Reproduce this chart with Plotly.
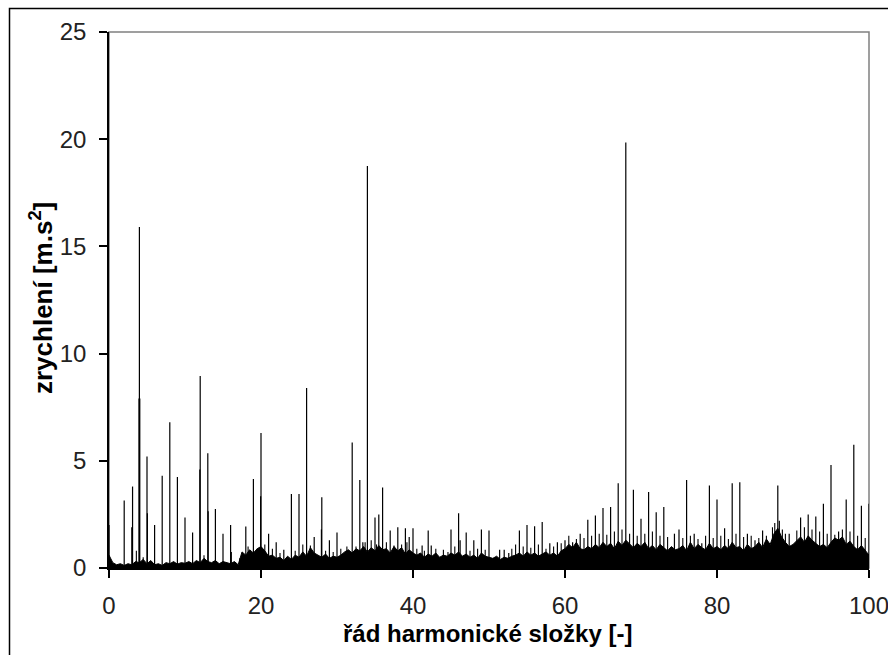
import plotly.graph_objects as go

# Harmonic order of the discrete spectral lines and their amplitudes [m.s^-2]
peak_order = [0, 2, 3, 3.1, 3.95, 4.0, 4.05, 5, 5.05, 6, 7, 8, 9, 10, 11, 11.95, 12, 13, 13.05,
              14, 15, 16, 18, 19, 19.95, 20, 21, 22, 23, 24, 25, 26, 27, 27.95, 28, 29, 30,
              32, 33, 33.4, 34, 35, 35.5, 36, 37, 38, 39, 39.5, 40, 41.2, 42, 42.4, 45, 46,
              46.2, 47, 48, 49, 50, 51.4, 52, 52.6, 54, 55, 56, 57, 58, 59, 60, 61, 62, 63,
              64, 65, 66, 67, 68, 69, 70, 71, 72, 73, 74.4, 75, 76, 77, 78, 79, 80, 81, 82,
              83, 84, 85, 86, 88, 88.2, 89.5, 91, 92, 93, 94, 95, 96, 97, 98, 99, 100]
peak_amp = [2.0, 3.15, 1.9, 3.8, 7.9, 15.9, 7.9, 5.2, 2.55, 2.0, 4.3, 6.8, 4.25, 2.35, 1.65, 4.6, 8.95, 5.35, 2.65,
            2.75, 1.6, 2.0, 1.93, 4.15, 3.35, 6.3, 1.6, 1.2, 0.85, 3.45, 3.45, 8.4, 1.45, 1.8, 3.3, 1.3, 1.65,
            5.85, 4.1, 1.2, 18.75, 2.35, 2.5, 3.75, 1.75, 1.9, 1.85, 1.45, 1.85, 1.05, 1.75, 1.05, 1.8, 2.55,
            1.3, 1.65, 1.3, 1.8, 1.75, 0.85, 0.85, 0.7, 1.75, 2.0, 1.95, 2.15, 1.15, 1.2, 1.3, 1.2, 1.6, 2.25,
            2.45, 2.8, 2.85, 3.95, 19.85, 3.65, 2.3, 3.55, 2.6, 2.85, 1.6, 1.8, 4.1, 1.6, 1.15, 3.85, 3.2, 1.85, 3.95,
            4.0, 1.6, 1.3, 1.75, 3.85, 2.2, 1.6, 2.35, 2.5, 2.4, 3.0, 4.8, 1.7, 3.2, 5.75, 2.9, 3.0]

# Small lines sticking out of the noise floor
minor_order = [3.6, 4.5, 12.5, 16.1, 17.2,
               18.3, 19.5, 20.5, 21.5, 22.5, 24.5, 25.5, 26.5, 28.5, 29.5,
               30.5, 31.3, 32.5, 33.7, 34.5, 35.2, 36.5, 37.5, 38.5, 39.2,
               40.5, 41.5, 43.0, 44.0, 44.6, 45.5, 47.5, 48.5, 49.5,
               53.0, 53.5, 54.5, 55.5, 56.5, 57.5, 58.5, 59.5,
               60.5, 61.5, 62.5, 63.5, 64.5, 65.5, 66.5, 67.5, 68.5, 69.5,
               70.5, 71.5, 72.5, 73.5, 75.5, 76.5, 77.5, 78.5, 79.5,
               80.5, 81.5, 82.5, 83.5, 84.5, 85.5, 86.5, 87.3, 87.6, 88.6, 89.0,
               90.5, 91.5, 92.5, 93.5, 94.5, 95.5, 96.5, 97.5, 98.5, 99.5]
minor_amp = [0.8, 0.5, 0.6, 0.75, 0.45,
             1.0, 0.9, 1.1, 0.9, 0.7, 0.8, 1.1, 1.05, 0.8, 0.75,
             0.9, 1.0, 1.0, 1.2, 1.3, 1.1, 1.2, 1.05, 1.1, 1.2,
             0.9, 0.8, 0.9, 0.85, 0.75, 1.0, 0.8, 0.9, 0.85,
             0.9, 1.1, 1.0, 0.95, 1.1, 0.9, 1.0, 1.15,
             1.5, 1.35, 1.4, 1.5, 1.6, 1.55, 1.7, 1.8, 1.6, 1.5,
             1.6, 1.7, 1.5, 1.45, 1.4, 1.5, 1.35, 1.5, 1.4,
             1.5, 1.35, 1.6, 1.45, 1.5, 1.4, 1.5, 1.9, 2.1, 1.8, 1.6,
             1.75, 1.9, 1.8, 1.7, 1.6, 1.55, 1.8, 1.7, 1.5, 1.4]

# Broadband noise floor, read every 0.5 of harmonic order from 0 to 100
noise_step = 0.5
noise_amp = [
    0.6, 0.25, 0.15, 0.2, 0.12, 0.2, 0.15, 0.3, 0.25, 0.4, 0.2, 0.35, 0.15, 0.2, 0.12, 0.25, 0.2, 0.3, 0.18, 0.25, 0.22,
    0.3, 0.2, 0.35, 0.25, 0.45, 0.3, 0.25, 0.35, 0.2, 0.3, 0.25, 0.2, 0.3, 0.15, 0.75, 0.6, 0.85, 0.7, 0.9, 1.0,
    0.8, 0.55, 0.6, 0.45, 0.5, 0.35, 0.55, 0.4, 0.6, 0.5, 0.75, 0.55, 0.95, 0.7, 0.6, 0.5, 0.65, 0.45, 0.55, 0.5,
    0.6, 0.75, 0.85, 0.7, 0.9, 0.8, 1.0, 0.75, 0.95, 0.8, 1.05, 0.85, 0.9, 0.7, 1.0, 0.8, 0.95, 0.65, 0.85, 0.7,
    0.6, 0.7, 0.5, 0.65, 0.55, 0.7, 0.5, 0.6, 0.55, 0.7, 0.6, 0.75, 0.55, 0.65, 0.5, 0.6, 0.45, 0.7, 0.55, 0.5,
    0.45, 0.55, 0.4, 0.5, 0.45, 0.55, 0.6, 0.7, 0.55, 0.75, 0.6, 0.7, 0.55, 0.65, 0.75, 0.6, 0.7, 0.55, 0.8, 0.9,
    1.1, 0.95, 1.2, 0.9, 0.85, 1.0, 0.9, 1.1, 0.95, 1.2, 1.0, 1.15, 0.9, 1.25, 1.05, 1.3, 1.1, 0.95, 1.15, 1.0,
    1.2, 0.9, 1.05, 0.85, 1.1, 0.95, 0.8, 1.0, 0.85, 0.9, 1.05, 0.8, 1.2, 0.9, 1.1, 0.95, 0.85, 1.15, 0.9, 1.0,
    0.85, 1.05, 0.9, 1.2, 0.95, 1.0, 0.8, 1.1, 0.9, 1.0, 1.2, 0.95, 1.35, 1.1, 1.6, 1.85, 1.45, 1.2, 1.0, 1.1,
    1.3, 1.45, 1.2, 1.5, 1.3, 1.15, 1.0, 1.1, 0.95, 1.2, 1.4, 1.3, 1.45, 1.1, 1.25, 1.0, 0.85, 1.05, 0.8, 0.6,
]
noise_order = [noise_step * i for i in range(len(noise_amp))]

x_title = "řád harmonické složky [-]"
y_title = "zrychlení [m.s<sup>2</sup>]"


def spikes(orders, amps):
    xs, ys = [], []
    for o, a in zip(orders, amps):
        xs += [o, o, None]
        ys += [0, a, None]
    return xs, ys


fig = go.Figure()
fig.add_trace(go.Scatter(x=noise_order, y=noise_amp, mode="lines", fill="tozeroy",
                         fillcolor="black", line=dict(color="black", width=1),
                         hoverinfo="skip", showlegend=False))
mx, my = spikes(minor_order, minor_amp)
fig.add_trace(go.Scatter(x=mx, y=my, mode="lines", line=dict(color="black", width=1.1),
                         hoverinfo="skip", showlegend=False))
sx, sy = spikes(peak_order, peak_amp)
fig.add_trace(go.Scatter(x=sx, y=sy, mode="lines", line=dict(color="black", width=1.2),
                         showlegend=False))

W, H = 900, 655
L, T = 109, 32
R = W - 869
B = H - 568
pw, ph = W - L - R, H - T - B


def px(x):
    return (x - L) / pw


def py(y):
    return (H - B - y) / ph


FONT = "Liberation Sans, Arial, sans-serif"

fig.update_layout(
    width=W, height=H,
    margin=dict(l=L, r=R, t=T, b=B, pad=0),
    paper_bgcolor="white", plot_bgcolor="white",
    font=dict(family=FONT, color="black"),
    shapes=[
        dict(type="rect", xref="paper", yref="paper", x0=0, x1=1, y0=0, y1=1,
             line=dict(color="#808080", width=1.5), layer="below"),
        dict(type="rect", xref="paper", yref="paper", x0=px(9.5), x1=px(896), y0=py(670), y1=py(8.5),
             line=dict(color="black", width=1.5), layer="below"),
    ],
    annotations=[
        dict(text=x_title, xref="paper", yref="paper", x=px(487), y=py(633),
             xanchor="center", yanchor="middle", showarrow=False,
             font=dict(size=24, family=FONT, weight="bold", color="black")),
        dict(text=y_title, xref="paper", yref="paper", x=px(41), y=py(298),
             xanchor="center", yanchor="middle", showarrow=False, textangle=-90,
             font=dict(size=26, family=FONT, weight="bold", color="black")),
    ],
)
fig.update_xaxes(range=[0, 100], dtick=20, tick0=0, showgrid=False, zeroline=False,
                 showline=True, linecolor="black", linewidth=1.5,
                 ticks="outside", ticklen=8, tickwidth=1.5, tickcolor="black",
                 tickfont=dict(size=24, color="#222"), ticklabelstandoff=7)
fig.update_yaxes(range=[0, 25], dtick=5, tick0=0, showgrid=False, zeroline=False,
                 showline=True, linecolor="black", linewidth=1.5,
                 ticks="outside", ticklen=8, tickwidth=1.5, tickcolor="black",
                 tickfont=dict(size=24, color="#222"), ticklabelstandoff=8)

fig.write_html("out.html", config={"displayModeBar": False}, post_script=(
    "document.body.style.margin='0';"
    "document.body.style.overflow='hidden';"
    "document.documentElement.style.overflow='hidden';"
))
